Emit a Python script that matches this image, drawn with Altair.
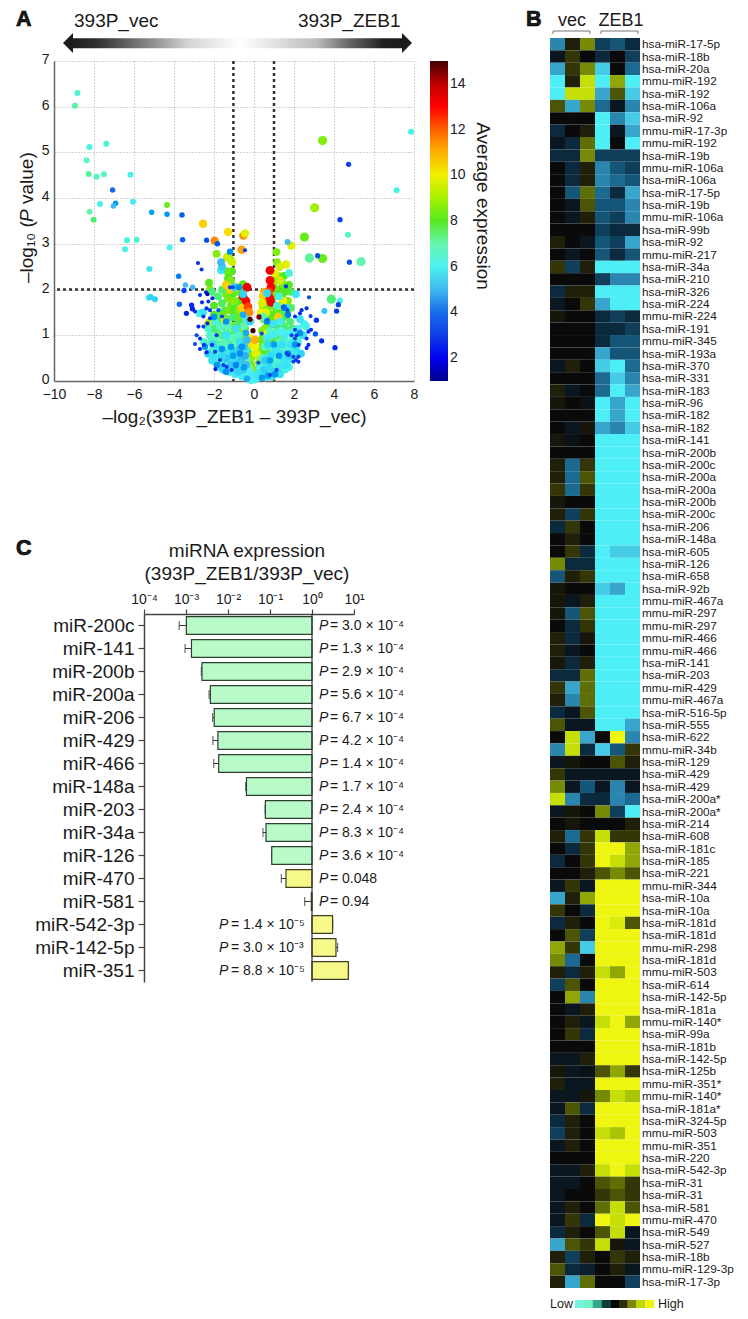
import altair as alt
import pandas as pd

FONT = "Liberation Sans"

# ---------- Panel A: volcano points (log2 ratio, -log10 P, average expression)
warm = [(-2.55,3.44,10.5),(-1.97,3.07,11.5),(-1.3,3.26,10.3),(-0.53,3.18,11.5),(-0.45,3.23,9.8),(-0.62,2.87,11.2),
(-1.35,2.7,9.5),(-1.1,2.6,9.5),(1.87,2.96,9.8),(1.6,2.55,9.8),(1.3,2.5,9.6),(1.05,2.35,9.8),(1.3,2.2,9.6),
(-1.4,2.1,10.5),(-1.2,2.0,10.5),(-0.9,2.05,10.3),(-2.2,1.3,9.5),(-2.3,1.25,9.3),(0.5,1.95,11),(0.45,1.85,10.5),
(0.35,1.5,10),(-0.35,1.3,9.8),(-0.25,0.95,10),(0.7,1.05,10),(0.8,1.0,10),(0.6,1.5,9.8),(0.4,1.7,9.7),(1.45,1.75,10),
(1.3,1.65,9.5),(1.2,1.4,10.5),(-1.45,1.3,10),(-0.6,1.6,10.5),(-0.1,0.8,10.2),(0.05,0.75,10),(0.1,0.6,9.8),(0.05,0.9,11)]
red = [(-0.35,2.05,13.3),(-0.55,1.85,13),(-0.4,1.75,13),(-0.3,1.62,12.5),(-0.25,1.5,11.5),
(0.8,2.42,13.3),(0.8,2.2,13),(0.85,2.05,13),(0.75,1.95,12.5),(0.8,1.8,13),(0.85,1.72,13.3)]
dark = [(-0.2,1.35,14.8),(-0.05,1.1,15),(0.25,1.4,14.5)]
green_big = [(3.43,5.26,8.5),(3.03,3.79,8.9),(3.43,2.68,8.2),(2.52,3.15,8.2),(2.77,2.69,7.2),(5.35,2.61,7),(3.87,1.79,7.5)]
green = [(-4.35,3.85,8.2),(-8.02,3.53,7.6),(-8.95,6.02,7.2),(-8.27,4.53,7.3),
(-1.87,2.78,8.5),(-1.3,2.72,8.7),(-1.15,2.65,8.5),(-1.25,2.35,8),(-1.1,2.4,8),(-1.35,2.4,8.2),(-1.3,2.25,8),(-1.15,2.2,8.4),
(-2.25,2.15,8),(-2.2,2.0,8.4),(-2.1,1.95,7.5),(-0.55,2.12,8),(-0.65,2.05,8),(-0.9,1.95,7.8),(-1.1,1.85,8),(-1.3,1.8,8.5),
(-1.6,1.7,7.7),(-1.8,1.85,7.5),(-1.7,1.5,7.5),(-1.45,1.55,7.8),(-1.15,1.65,8.2),(-0.95,1.7,7.8),(-0.75,1.75,8),(-0.6,1.5,8),
(-0.85,1.4,8.3),(-1.05,1.4,7.6),(-1.3,1.35,7.6),(-1.6,1.25,7.5),(-1.85,1.1,7.5),(-2.0,1.45,8),(-0.45,1.15,8),(-0.7,1.15,8.5),
(-0.95,1.1,7.6),(-1.2,1.0,7.6),(-1.5,0.95,7.6),(-1.75,0.8,7.5),(-0.35,0.9,8.3),(-0.55,0.85,7.7),(-0.85,0.75,7.5),(-1.1,0.7,7.5),
(-1.4,0.65,7.4),(-0.25,0.6,8),(-0.5,0.5,7.6),(-0.15,0.35,8.3),(-0.2,0.2,8.5),(-0.05,0.55,9),
(1.12,2.82,8.5),(1.15,2.6,8.5),(1.4,2.15,8.2),(1.75,2.1,8),(1.55,2.05,8.2),(1.2,2.0,8),(1.0,2.05,8.4),(1.85,1.95,7.8),(1.7,1.75,8.5),
(1.4,1.85,8),(1.05,1.85,8.2),(0.95,1.65,8.4),(0.6,1.7,8.8),(0.45,1.6,9),(1.1,1.5,8.3),(0.75,1.45,8.2),(0.5,1.35,8.3),(1.4,1.5,7.7),
(1.6,1.4,7.6),(0.9,1.25,8.5),(0.65,1.2,8),(0.4,1.1,8.5),(1.2,1.15,7.7),(1.5,1.2,7.6),(1.8,1.3,7.5),(0.35,0.9,8),(0.6,0.9,8.4),
(0.95,0.85,8.4),(1.3,0.9,7.8),(1.6,0.85,7.5),(0.3,0.65,8.4),(0.55,0.65,8),(0.85,0.6,7.7),(1.15,0.6,7.5),(0.25,0.4,8.6),(0.5,0.4,7.7),
(0.15,0.25,8.5),(0.2,0.1,8.3),
(-2.0,1.65,8),(-1.85,1.35,7.8),(-1.55,1.45,8.2),(-1.25,1.55,8.4),(-1.0,1.55,8),(-0.75,1.55,8.6),(-0.55,1.3,8),(-0.8,1.25,7.8),(-1.1,1.2,8.2),(-1.4,1.1,7.4),
(-1.7,1.0,7.4),(-2.0,1.15,7.6),(-0.6,1.0,8.2),(-0.9,0.9,7.8),(-1.25,0.85,7.4),(-0.3,0.75,8.4),(-0.45,0.65,7.8),(-0.15,0.5,8.6),(-0.75,1.95,8.2),(-1.0,1.75,8.6),
(-1.4,1.9,8.3),(-1.6,2.0,7.6),(0.5,1.55,8.6),(0.7,1.6,8.3),(0.9,1.45,8),(1.25,1.6,8),(1.5,1.6,7.6),(1.65,1.55,8),(1.85,1.6,7.6),(0.55,1.15,8.6),(0.8,1.3,8.3),
(1.05,1.3,8),(1.35,1.3,7.8),(1.65,1.1,7.6),(1.9,1.15,7.6),(0.45,0.95,8.2),(0.75,0.95,7.8),(1.05,0.95,8),(1.45,0.95,7.4),(0.4,0.75,8.4),(0.7,0.75,8.2),(1.05,0.72,7.6),
(0.35,0.5,8.4),(0.65,0.55,7.8),(0.25,0.55,8.8),(1.0,2.2,8.6),(1.2,2.3,8.4),(1.5,2.3,8),(1.55,1.95,8)]
teal = [(-8.83,6.30,6.5),(-8.23,5.12,6.3),(-7.38,5.19,6.5),(-8.37,4.83,6.9),(-7.87,4.47,6.7),(-7.5,4.52,6.8),(-6.18,4.51,6.2),
(-7.7,3.87,6.3),(-6.05,3.92,5.9),(-8.22,3.7,7),(-6.35,3.08,6.3),(-5.87,3.09,6.5),(-6.45,2.88,6.2),(-4.22,2.92,6),(-5.23,2.45,5.8),
(-5.27,1.82,5.8),(-5.17,1.84,5.4),(-4.95,1.79,5.4),(7.85,5.45,6.3),(7.13,4.17,6.3),(4.7,3.2,6.8),(4.3,1.76,6),
(1.75,2.36,6.5),(-1.3,1.2,6.8),(-1.7,1.2,6.7),(-1.95,1.3,6.5),(-2.2,1.0,6.7),(-2.5,0.85,6.6),(-1.95,0.9,6.8),(-1.5,0.85,6.8),(-1.1,0.95,6.8),
(-0.75,1.0,6.6),(-0.5,1.2,6.9),(-2.1,0.65,6.5),(-1.75,0.55,6.7),(-1.3,0.5,6.6),(-0.95,0.55,6.6),(-0.65,0.7,6.6),(-0.35,0.45,6.9),
(-1.6,0.4,6.5),(-1.1,0.3,6.5),(-0.75,0.3,6.6),(-0.45,0.2,6.7),(0.45,1.4,6.7),(0.8,1.1,6.8),(1.1,1.05,6.6),(1.45,1.05,6.7),(1.75,1.05,6.5),
(2.05,1.1,6.6),(0.55,0.75,6.7),(0.85,0.75,6.6),(1.2,0.75,6.8),(1.55,0.7,6.6),(1.85,0.7,6.5),(2.2,0.85,6.4),(0.4,0.5,6.7),(0.75,0.45,6.7),
(1.05,0.45,6.6),(1.4,0.45,6.5),(1.7,0.45,6.5),(0.45,0.25,6.7),(0.8,0.2,6.6),(1.15,0.25,6.4),(1.55,0.25,6.3),(1.15,1.65,6.5),
(-2.3,1.15,6.6),(-2.15,0.85,6.8),(-1.8,0.75,7),(-1.3,0.75,6.8),(-0.95,0.8,6.9),(-1.9,0.65,6.6),(-1.55,0.6,6.8),(-1.15,0.55,6.8),(-0.8,0.65,6.7),(-1.4,0.45,6.5),
(-1.9,0.4,6.3),(-0.6,0.4,6.7),(-0.25,0.3,7),(-0.9,0.45,6.6),(0.95,0.55,6.8),(1.25,0.85,6.8),(1.65,0.85,6.6),(1.95,0.9,6.5),(2.2,1.0,6.5),(1.5,0.6,6.7),(1.95,0.6,6.4),
(0.6,0.35,6.9),(1.0,0.3,6.6),(1.3,0.35,6.5),(1.75,0.3,6.2),(0.3,0.2,6.9),(0.55,0.15,6.7)]
cyan = [(-2.73,1.48,6),(-2.55,1.5,5.8),(-1.85,0.5,5.9),(-2.1,0.45,5.8),(-1.75,0.3,5.8),(-1.4,0.35,5.9),(-1.1,0.45,5.7),(-0.8,0.5,5.6),
(-0.55,0.35,5.9),(-0.4,0.65,5.8),(-0.7,0.85,5.7),(-1.25,0.2,5.7),(-0.95,0.15,5.9),(-0.6,0.1,5.9),(-0.3,0.1,6),(-0.15,0.02,6),(0.0,0.03,6.1),
(0.1,0.05,5.9),(0.35,0.1,5.7),(0.6,0.08,5.8),(0.9,0.1,5.7),(1.3,0.15,5.7),(1.6,0.35,5.7),(1.9,0.5,5.7),(2.1,0.55,5.8),(2.35,0.6,5.5),
(1.35,0.6,5.8),(0.95,0.6,5.9),(0.65,0.5,5.9),(0.3,0.3,6),(2.5,1.25,6),(2.6,1.2,6.1),(2.45,1.0,5.7),(2.2,1.15,6),(2.3,1.35,5.8),
(-1.4,1.0,5.8),(-0.9,1.15,5.8),(0.65,1.92,5.6),(0.65,0.95,5.9),(0.95,1.25,5.8),(1.3,1.3,5.9),(1.6,1.6,5.7),(1.25,1.85,6.2),
(-1.65,2.42,5.8),(-1.6,2.5,5.4),(-1.65,2.6,5),(-0.55,1.9,5.5),(-1,2.05,5.5),(-0.4,1.35,5.9),(-0.2,1.3,5.5),(2.1,1.9,5.8),(3.52,1.53,5.2),(1.68,3.04,5),
(-0.55,0.25,5.3),(-0.4,0.35,5),(-0.65,0.45,5.2),(-0.45,0.55,4.9),(-0.7,0.7,5),(-0.5,0.75,5.2),(-0.35,0.9,5.1),(-0.95,0.3,5.2),(-1.15,0.35,5.3),(-1.4,0.5,5.2),
(-1.6,0.55,5.6),(-1.25,0.65,5.7),(-1.0,0.65,5.5),(-1.75,0.7,5.8),(-2.05,0.8,5.6),(-2.3,0.6,5.3),(-2.05,0.55,5.7),(-1.55,0.25,5.4),(-0.8,0.2,5.5),(-0.2,0.2,6),(-0.1,0.12,5.9),
(0.2,0.15,5.8),(0.5,0.25,5.4),(0.75,0.3,5.6),(1.0,0.2,5.5),(1.25,0.3,5.8),(1.5,0.45,5.8),(1.75,0.55,5.6),(0.55,0.45,5.3),(0.85,0.55,5.6),(1.1,0.7,5.8),(1.4,0.8,5.7),
(1.85,0.8,5.8),(2.1,0.7,5.7),(0.7,0.8,5.6),(0.95,1.0,5.9),(1.55,1.0,5.9),(1.95,1.05,6),(1.35,1.1,6)]
blue = [(-1.2,2.83,4.5),(-0.75,2.05,4.5),(-2.45,0.75,4.6),(-2.0,1.4,4.5),(-1.4,1.3,4.5),(-0.55,1.45,4.8),(-0.4,1.05,4.8),(-0.6,0.75,4.5),
(-1.15,0.75,4.6),(-1.6,0.7,4.5),(-1.85,0.35,4.5),(-1.4,0.2,4.4),(-1.05,0.55,4.6),(-0.7,0.6,4.4),(-0.9,0.35,4.3),(-0.5,0.3,4.6),(-0.35,0.05,4.8),
(0.4,0.07,4.6),(0.7,0.12,4.6),(1.05,0.15,4.5),(0.8,0.45,4.7),(1.25,0.55,4.5),(0.65,1.3,4.4),(1.5,1.6,4.2),(1.7,1.45,4.2),(1.0,0.8,4.7),
(1.7,0.6,4.3),(2.3,1.05,4.4),(2.05,0.8,4.5),(-5.12,3.69,4.7),(-4.35,3.65,4.5),(-6.92,3.89,4.6),(-7.03,3.83,5),(-3.43,2.1,5),(-3.07,2.05,5),
(-3.77,2.29,4.2),(-7.07,4.18,4),(-3.73,1.68,3.8),(-3.6,3.63,3.7),(-3.57,3.09,3.7),(-1.83,3.0,3.6)]
navy = [(-2.37,3.08,3.3),(-0.45,2.86,2.8),(-2.8,2.58,2.5),(-2.62,2.44,2.8),(-1.05,2.05,3.2),(-3.5,1.98,3),(4.73,4.74,3),(4.3,3.53,3),(3.18,2.74,3.3),
(4.77,2.6,3.3),(2.75,1.83,3.4),(4.22,1.67,3),(4.13,1.53,2.8),(2.83,1.42,3),(3.12,1.33,2.6),(2.85,1.12,2.5),(3.07,1.03,3.5),(3.38,0.88,2.6),(4.05,0.73,2.5),
(-2.7,1.88,2.6),(-2.4,1.94,2.5),(-2.6,1.72,2.8),(-2.28,1.74,2.8),(-2.08,1.81,2.4),(-3.12,1.66,2.4),(-3.08,1.58,2.4),(-3.38,1.48,2.4),(-2.95,1.52,2.5),
(-2.37,1.59,2.6),(-2.2,1.55,2.8),(-1.78,1.55,3.5),(-2.53,1.41,2.6),(-2.2,1.37,2.6),(-2.53,1.19,3),(-2.78,1.19,2.5),(-2.33,1.26,2.5),(-2.87,1.0,3.2),
(-2.7,0.93,2.6),(-2.95,0.81,3.2),(-2.7,0.7,2.4),(-2.37,0.63,2.4),(-2.5,0.79,2.6),(-2.1,0.79,2.6),(-1.95,0.64,2.8),(-1.7,0.46,2.8),(-1.53,0.35,3),
(-1.93,0.26,2.2),(-1.37,0.31,2.8),(-1.12,0.24,2.6),(-1.87,1,2.8),(-1.6,1.41,3),(0.22,0.4,3.3),(0.68,1.34,3.8),(0.38,1.04,3),(1.47,1.63,3.5),(1.67,1.55,3.3),
(2.05,1.12,3),(1.88,1.0,3),(2.05,0.93,3),(1.63,0.61,3.2),(1.72,0.57,3),(2.1,0.46,2.8),(1.97,0.53,3),(2.22,0.53,2.8),(1.97,0.42,3),(2.22,0.42,2.8),
(2.72,1.08,2.6),(2.63,0.93,2.6),(2.72,0.79,2.6),(2.63,0.72,2.4),(2.23,0.79,2.8),(2.13,1,2.8),(1.13,0.24,3),(0.8,0.13,3),(2.38,1.55,2.6),(2.05,1.41,2.6),
(2.3,1.48,2.6),(2.63,1.59,2.6),(1.6,2.07,2.6),(-2.33,1.9,1.5),(-1.2,2.05,3)]

# Colour bar
EXPR_STOPS = [1,2,3,4,5,6,7,8,9,10,11,12,13,14,15]
EXPR_COLORS = ["#00008f","#0000f0","#0f3fe8","#1a6bea","#40b8f0","#4df0f0","#66f5b0","#55e820","#a5f000","#f0f000",
               "#ffb000","#ff6000","#ff0000","#c00000","#400000"]

# ---------- Panel B: heat map
mirnas = ["hsa-miR-17-5p","hsa-miR-18b","hsa-miR-20a","mmu-miR-192","hsa-miR-192","hsa-miR-106a","hsa-miR-92","mmu-miR-17-3p","mmu-miR-192",
"hsa-miR-19b","mmu-miR-106a","hsa-miR-106a","hsa-miR-17-5p","hsa-miR-19b","mmu-miR-106a","hsa-miR-99b","hsa-miR-92","mmu-miR-217","hsa-miR-34a",
"hsa-miR-210","hsa-miR-326","hsa-miR-224","mmu-miR-224","hsa-miR-191","mmu-miR-345","hsa-miR-193a","hsa-miR-370","hsa-miR-331","hsa-miR-183",
"hsa-miR-96","hsa-miR-182","hsa-miR-182","hsa-miR-141","hsa-miR-200b","hsa-miR-200c","hsa-miR-200a","hsa-miR-200a","hsa-miR-200b","hsa-miR-200c",
"hsa-miR-206","hsa-miR-148a","hsa-miR-605","hsa-miR-126","hsa-miR-658","hsa-miR-92b","mmu-miR-467a","mmu-miR-297","mmu-miR-297","mmu-miR-466",
"mmu-miR-466","hsa-miR-141","hsa-miR-203","mmu-miR-429","mmu-miR-467a","hsa-miR-516-5p","hsa-miR-555","hsa-miR-622","mmu-miR-34b","hsa-miR-129",
"hsa-miR-429","hsa-miR-429","hsa-miR-200a*","hsa-miR-200a*","hsa-miR-214","hsa-miR-608","hsa-miR-181c","hsa-miR-185","hsa-miR-221","mmu-miR-344",
"hsa-miR-10a","hsa-miR-10a","hsa-miR-181d","hsa-miR-181d","mmu-miR-298","hsa-miR-181d","mmu-miR-503","hsa-miR-614","hsa-miR-142-5p","hsa-miR-181a",
"mmu-miR-140*","hsa-miR-99a","hsa-miR-181b","hsa-miR-142-5p","hsa-miR-125b","mmu-miR-351*","mmu-miR-140*","hsa-miR-181a*","hsa-miR-324-5p",
"mmu-miR-503","mmu-miR-351","hsa-miR-220","hsa-miR-542-3p","hsa-miR-31","hsa-miR-31","hsa-miR-581","mmu-miR-470","hsa-miR-549","hsa-miR-527",
"hsa-miR-18b","mmu-miR-129-3p","hsa-miR-17-3p"]
heat = [
[-6,1,5,-3,-4,-2],[-1,2,0,-2,0,-3],[-7,2,5,-8,0,-5],[-9,1,8,-9,6,-9],[-9,8,8,-7,3,-8],[3,-7,5,-5,-1,-6],[0,0,0,-9,-6,-8],[-2,0,1,-9,-1,-7],
[-1,-2,4,-9,0,-9],[-2,-2,5,-3,-3,-3],[0,-2,1,-6,-4,-3],[0,-2,1,-6,-5,-4],[0,-4,4,-5,-2,-7],[0,-1,3,-4,-4,-6],[0,-1,1,-4,-3,-6],[0,0,0,-3,-2,-2],
[1,0,-1,-4,-3,-7],[0,-1,0,-4,-2,-4],[2,-3,1,-9,-9,-9],[0,0,0,-3,-6,-6],[-2,1,1,-9,-9,-9],[-1,0,2,-7,-9,-9],[0.5,0,0,-2,-3,-2],[0,0,0,-2,-2,-3],
[0,0,0,-2,-4,-4],[0,0,0,-7,-4,-4],[-1,1,0,-8,-9,-5],[0,0,0,-5,-8,-6],[1,-1,0,-5,-9,-7],[0.5,0,-0.5,-9,-7,-9],[0,0,0,-9,-7,-9],[0,-1,0.5,-7,-6,-8],
[0.5,-0.5,0,-9,-9,-9],[0,0,0,-9,-9,-9],[1,-5,2,-9,-9,-9],[1,-5,3,-9,-9,-9],[2,-5,2,-9,-9,-9],[0.5,0,0,-9,-9,-9],[1,-3,2,-9,-9,-9],[-2,2,0,-9,-9,-9],
[0,1,0,-9,-9,-9],[0,2,-2,-9,-8,-8],[5,-2,-2,-9,-9,-9],[-4,1,2,-9,-9,-9],[0.5,0,0,-8,-7,-9],[0.5,-1,1,-9,-9,-9],[0.5,-4,3,-9,-9,-9],[0,-2,2,-9,-9,-9],
[1,-2,0.5,-9,-9,-9],[1,-1,0,-9,-9,-9],[0.5,-2,1,-9,-9,-9],[-2,-2,4,-9,-9,-9],[2,-7,4,-9,-9,-9],[1,-6,4,-9,-9,-9],[-2,-1,3,-9,-9,-9],[3,-1,-1,-9,-9,-7],
[0,8,-7,0,9,-6],[-6,8,-2,-8,-4,2],[-1,0.5,0,0,3,1],[2,-1,-1,-1,-1,-1],[5,-1,-4,-1,-6,-1],[8,-6,-2,-2,-6,-5],[-1,0.5,0,5,-3,-9],[0,0.5,0,0,0,1],
[1,-5,2,8,2,2],[0,-2,2,9,9,6],[-2,0,2,9,8,6],[0,0,1,3,5,3],[-1,2,-1,9,9,9],[-7,1,6,9,9,9],[2,0,-2,9,9,9],[-2,1,0,9,8.5,3],[0,3,-3,9,9,9],[6,2,-8,9,9,9],
[5,-5,0,9,9,9],[1,-2,1,8,6,9],[-3,3,0,9,9,9],[0,6,-6,9,9,9],[0,-1,1,9,9,9],[0,1,-1,8,9,6],[0,2,-2,9,9,9],[0,0,0,9,9,9],[-1,-1,1,9,9,9],[0.5,-1,-0.5,3,6,2],
[1,-1,-1,9,9,9],[-1,-1,0.5,5,8,7],[-1,3,-2,9,9,9],[-2,1,0,9,9,9],[-3,1,0,8,7,9],[-1,1,0,9,9,9],[0,0,0,9,9,9],[-1,-1,1,8,9,8],[-1,-1,0,3,4,2],[-1,0,0,2,3,2],
[-1,1,0,4,8,3],[-1,2,-2,9,8,9],[-2,1,0,3,8,-1],[-7,3,2,8,0.5,-1],[1,-3,1,0,2,1],[3,-2,-1.5,0,1,-1],[1,-7,4,0,0,-3]]
HEAT_STOPS = [-9,-8,-7,-6,-5,-4,-3,-2,-1,0,1,2,3,4,5,6,7,8,9]
HEAT_COLORS = ["#4deef6","#45cbe5","#38a6cc","#2a86ae","#1c6a92","#155578","#103f5c","#0c2a3e","#0a1720","#0a0a0a",
               "#201f0a","#353608","#4c5506","#606f05","#768a05","#8fa605","#a8c505","#c6de08","#eef510"]
LOW_HIGH = ["#70f5d8","#6ff5c4","#2fa988","#0c4038","#050505","#2c3008","#7a8a05","#c0d80a","#eef210"]

# ---------- Panel C: bars
bar_names = ["miR-200c","miR-141","miR-200b","miR-200a","miR-206","miR-429","miR-466","miR-148a","miR-203","miR-34a","miR-126",
             "miR-470","miR-581","miR-542-3p","miR-142-5p","miR-351"]
bar_vals = [1.02e-3,1.35e-3,2.4e-3,3.8e-3,4.7e-3,5.75e-3,6.0e-3,0.0275,0.0776,0.0804,0.11,0.24,0.964,3.09,3.72,7.33]
bar_errs = [6.9e-4,9.5e-4,2.32e-3,3.55e-3,4.3e-3,4.37e-3,4.57e-3,0.0263,0.077,0.068,0.109,0.186,0.668,3.1,4.07,7.4]
bar_p = ["= 3.0 × 10⁻⁴","= 1.3 × 10⁻⁴","= 2.9 × 10⁻⁴","= 5.6 × 10⁻⁴","= 6.7 × 10⁻⁴","= 4.2 × 10⁻⁴","= 1.4 × 10⁻⁴","= 1.7 × 10⁻⁴",
         "= 2.4 × 10⁻⁴","= 8.3 × 10⁻⁴","= 3.6 × 10⁻⁴","= 0.048","= 0.94","= 1.4 × 10⁻⁵","= 3.0 × 10⁻³","= 8.8 × 10⁻⁵"]
BAR_LABELS = {"0.0001":"10⁻⁴","0.001":"10⁻³","0.01":"10⁻²","0.1":"10⁻¹","1":"10⁰","10":"10¹"}


def txt(s, x, y, size=19, align="left", **kw):
    return alt.Chart(alt.Data(values=[{"t": s}])).mark_text(
        fontSize=size, baseline="middle", align=align, color="#1a1a1a", font=FONT, **kw
    ).encode(text="t:N", x=alt.value(x), y=alt.value(y))


def rule_px(x, x2, y, y2=None, color="#777777"):
    enc = dict(x=alt.value(x), y=alt.value(y))
    if x2 is not None:
        enc["x2"] = alt.value(x2)
    if y2 is not None:
        enc["y2"] = alt.value(y2)
    return alt.Chart(alt.Data(values=[{"a": 1}])).mark_rule(color=color, strokeWidth=1).encode(**enc)


def sized(group, inner, outer):
    """Attach a marker area: points inside the dense cloud are drawn larger than the isolated ones."""
    return [(x, y, e, inner if abs(x) < 3 and y < 2.9 else outer) for x, y, e in group]


# ===== Panel A =====
rows = (sized(green_big, 85, 85) + sized(green, 62, 36) + sized(warm, 70, 70) + sized(red, 78, 78)
        + sized(teal, 62, 36) + sized(cyan, 62, 36) + sized(blue, 42, 30) + sized(navy, 17, 28) + sized(dark, 28, 28))
pts = pd.DataFrame(rows, columns=["x", "y", "e", "s"])
xA = alt.Scale(domain=[-10, 8], nice=False)
yA = alt.Scale(domain=[0, 7], nice=False)
xA_axis = alt.Axis(
    values=list(range(-10, 9, 2)), grid=True, gridDash=[1, 2], gridColor="#a8a8a8", ticks=False, labelFlush=False,
    domainColor="#666666", domainWidth=1.5, labelFontSize=14, labelColor="#1a1a1a", labelPadding=6,
    title="–log₂(393P_ZEB1 – 393P_vec)", titleFontSize=19, titleFontWeight="normal", titleColor="#1a1a1a", titlePadding=6)
yA_axis = alt.Axis(
    values=list(range(0, 8)), grid=True, gridDash=[1, 2], gridColor="#a8a8a8", ticks=False, labelFlush=False, labelOffset=-1.5,
    domainColor="#666666", domainWidth=1.5, labelFontSize=14, labelColor="#1a1a1a", labelPadding=5, title=None)
points = alt.Chart(pts).mark_circle(opacity=1).encode(
    x=alt.X("x:Q", scale=xA, axis=xA_axis),
    y=alt.Y("y:Q", scale=yA, axis=yA_axis),
    color=alt.Color("e:Q", scale=alt.Scale(domain=EXPR_STOPS, range=EXPR_COLORS), legend=alt.Legend(
        orient="none", legendX=376, legendY=0, gradientLength=320, gradientThickness=18, values=list(range(2, 15, 2)),
        title=None, labelFontSize=14, labelColor="#1a1a1a", gradientStrokeWidth=0)),
    size=alt.Size("s:Q", scale=None, legend=None),
)
vlines = alt.Chart(pd.DataFrame({"v": [-1.03, 1.0]})).mark_rule(color="#333333", strokeWidth=2.5, strokeDash=[3, 3]).encode(
    x=alt.X("v:Q", scale=xA, axis=xA_axis))
hline = alt.Chart(pd.DataFrame({"v": [2.0]})).mark_rule(color="#333333", strokeWidth=2.5, strokeDash=[3, 3]).encode(
    y=alt.Y("v:Q", scale=yA, axis=yA_axis))

grad = alt.LinearGradient(gradient="linear", x1=0, x2=1, y1=0, y2=0, stops=[
    alt.GradientStop(color="#1c1c1c", offset=0), alt.GradientStop(color="#333333", offset=0.08),
    alt.GradientStop(color="#8a8a8a", offset=0.235), alt.GradientStop(color="#d4d4d4", offset=0.35),
    alt.GradientStop(color="#ffffff", offset=0.51), alt.GradientStop(color="#bcbcbc", offset=0.74),
    alt.GradientStop(color="#666666", offset=0.84), alt.GradientStop(color="#222222", offset=0.94),
    alt.GradientStop(color="#1c1c1c", offset=1)])
arrow_bar = alt.Chart(pd.DataFrame({"a": [-9.05], "b": [7.4]})).mark_rect(fill=grad).encode(
    x=alt.X("a:Q", scale=xA, axis=xA_axis), x2="b:Q", y=alt.value(-22.7), y2=alt.value(-12.7))
head_l = alt.Chart(pd.DataFrame({"a": [-9.05]})).mark_point(
    shape="M0,-1 L0,1 L-1,0 Z", size=400, filled=True, opacity=1, color="#1c1c1c", strokeWidth=0
).encode(x=alt.X("a:Q", scale=xA, axis=xA_axis), y=alt.value(-18))
head_r = alt.Chart(pd.DataFrame({"a": [7.4]})).mark_point(
    shape="M0,-1 L0,1 L1,0 Z", size=400, filled=True, opacity=1, color="#1c1c1c", strokeWidth=0
).encode(x=alt.X("a:Q", scale=xA, axis=xA_axis), y=alt.value(-18))

LETTER = dict(size=21.5, fontWeight="bold", stroke="#000000", strokeWidth=0.7)
panel_a = alt.layer(
    vlines, hline, points, arrow_bar, head_l, head_r,
    txt("393P_vec", 20, -40), txt("393P_ZEB1", 244, -40),
    txt("A", -38, -41.5, **LETTER),
    txt("–log₁₀ (", -27, 222, angle=270), txt("P", -27, 161, angle=270, fontStyle="italic"), txt("value)", -27, 143, angle=270),
    txt("Average expression", 429, 145, align="center", angle=90),
).properties(width=360, height=320)

# ===== Panel C =====  (plot frame starts at A's left edge, log scale occupies 90..300 of it)
C0 = 90
df_c = pd.DataFrame({"n": bar_names, "v": bar_vals, "e": bar_errs, "p": bar_p, "one": 1.0})
df_c["g"] = ["down"] * 11 + ["up"] * 5
xC = alt.Scale(type="log", domain=[1e-4, 10], nice=False, range=[C0, C0 + 210])
label_expr = "{" + ",".join(f"'{k}':'{v}'" for k, v in BAR_LABELS.items()) + "}[''+datum.value]"
xC_axis = alt.Axis(orient="top", values=[1e-4, 1e-3, 1e-2, 1e-1, 1, 10], labelExpr=label_expr, title=None, grid=False,
                   labelFontSize=14, labelColor="#1a1a1a", labelPadding=3, tickSize=5, tickColor="#444444", domainColor="#444444",
                   domainWidth=1.5, tickWidth=1.2, labelOverlap=False, labelFlush=False)
yC = alt.Y("n:N", sort=bar_names, scale=alt.Scale(paddingInner=0.22, paddingOuter=0.11), axis=alt.Axis(
    title=None, labelFontSize=19, labelColor="#1a1a1a", labelPadding=4, tickSize=6, tickColor="#444444", offset=-C0,
    domainColor="#444444", domainWidth=1.5, tickWidth=1.2, grid=False))
base = alt.Chart(df_c)
err = base.mark_rule(color="#333333", strokeWidth=1).encode(x=alt.X("e:Q", scale=xC, axis=xC_axis), x2="v:Q", y=yC)
cap = base.mark_tick(orient="vertical", size=9, thickness=1.2, color="#333333").encode(x=alt.X("e:Q", scale=xC, axis=xC_axis), y=yC)
bars_g = base.transform_filter("datum.g=='down'").mark_bar(fill="#b9fbc8", stroke="#2f3f30", strokeWidth=1.2).encode(
    x=alt.X("v:Q", scale=xC, axis=xC_axis), x2="one:Q", y=yC)
bars_y = base.transform_filter("datum.g=='up'").mark_bar(fill="#f6f98a", stroke="#3f3f20", strokeWidth=1.2).encode(
    x=alt.X("v:Q", scale=xC, axis=xC_axis), x2="one:Q", y=yC)
one_rule = alt.Chart(pd.DataFrame({"one": [1.0]})).mark_rule(color="#333333", strokeWidth=1.2).encode(
    x=alt.X("one:Q", scale=xC, axis=xC_axis))
ptxt = base.mark_text(fontSize=14, align="left", baseline="middle", color="#1a1a1a", font=FONT)
pit = base.mark_text(fontSize=14, align="left", baseline="middle", color="#1a1a1a", font=FONT, fontStyle="italic", text="P")
txt_r = ptxt.transform_filter("datum.v<1").encode(x=alt.value(C0 + 186), y=yC, text="p:N")
txt_l = ptxt.transform_filter("datum.v>1").encode(x=alt.value(C0 + 87), y=yC, text="p:N")
pit_r = pit.transform_filter("datum.v<1").encode(x=alt.value(C0 + 175), y=yC)
pit_l = pit.transform_filter("datum.v>1").encode(x=alt.value(C0 + 75), y=yC)

panel_c = alt.layer(
    err, cap, bars_g, bars_y, one_rule, txt_r, txt_l, pit_r, pit_l,
    txt("miRNA expression", C0 + 103, -63, size=19, align="center"),
    txt("(393P_ZEB1/393P_vec)", C0 + 103, -40, size=19, align="center"),
    txt("C", -38, -65, **LETTER),
).properties(width=C0 + 210, height=368)

# ===== Panel B =====  (frame origin is level with panel A's plot; the rows start 23 px above it)
B0 = -23
cells = pd.DataFrame([{"r": i, "c": j, "v": v} for i, row in enumerate(heat) for j, v in enumerate(row)])
xB = alt.X("c:O", scale=alt.Scale(domain=list(range(6)), paddingInner=0, paddingOuter=0), axis=None)
yB = alt.Y("r:O", scale=alt.Scale(domain=list(range(len(mirnas))), paddingInner=0, paddingOuter=0, range=[B0, B0 + 1250]), axis=None)
rect = alt.Chart(cells).mark_rect().encode(
    x=xB, y=yB, fill=alt.Fill("v:Q", scale=alt.Scale(domain=HEAT_STOPS, range=HEAT_COLORS), legend=None))
names = alt.Chart(pd.DataFrame({"r": list(range(len(mirnas))), "n": mirnas})).mark_text(
    fontSize=11.8, align="left", baseline="middle", color="#1a1a1a", font=FONT
).encode(x=alt.value(92), y=yB, text="n:N")
strip = [alt.Chart(alt.Data(values=[{"a": 1}])).mark_rect(fill=c).encode(
    x=alt.value(25 + i * 8.8), x2=alt.value(25 + (i + 1) * 8.8), y=alt.value(B0 + 1262), y2=alt.value(B0 + 1270))
    for i, c in enumerate(LOW_HIGH)]

panel_b = alt.layer(
    rect, names, *strip,
    txt("vec", 22, B0 - 17, size=18, align="center"), txt("ZEB1", 71, B0 - 17, size=18, align="center"),
    rule_px(3, 40, B0 - 7), rule_px(3, None, B0 - 7, B0 - 4), rule_px(40, None, B0 - 7, B0 - 4),
    rule_px(51, 88, B0 - 7), rule_px(51, None, B0 - 7, B0 - 4), rule_px(88, None, B0 - 7, B0 - 4),
    txt("B", -24, -41.5, **LETTER),
    txt("Low", 0, B0 + 1266, size=12.5), txt("High", 108, B0 + 1266, size=12.5),
).properties(width=90, height=1227)

left = alt.vconcat(panel_a, panel_c, spacing=112)
chart = alt.hconcat(left, panel_b, spacing=34).properties(
    padding={"left": 8, "top": 0, "right": 0, "bottom": 0}
).configure(font=FONT).configure_view(stroke=None)

chart.save("out.html", embed_options={"renderer": "svg", "actions": False})
